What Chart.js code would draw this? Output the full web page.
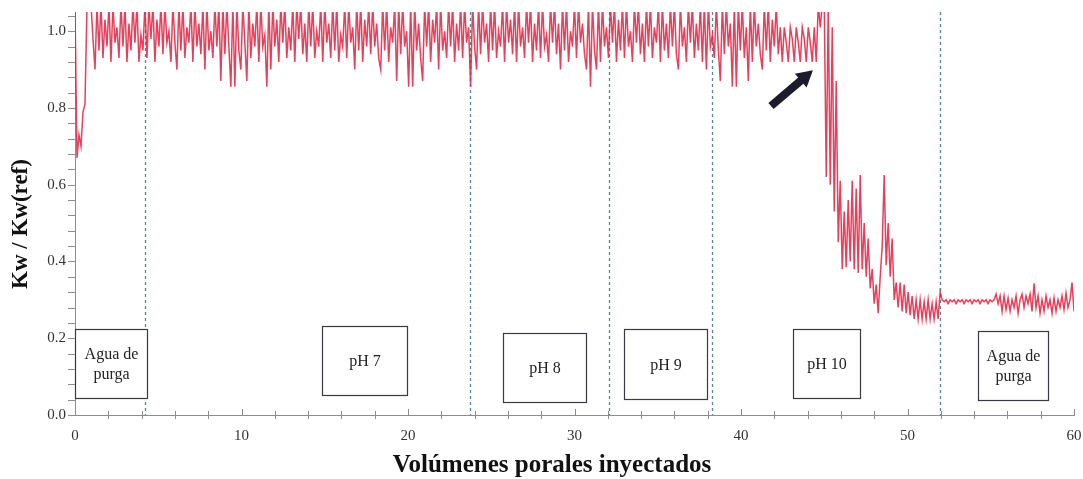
<!DOCTYPE html>
<html>
<head>
<meta charset="utf-8">
<script src="https://cdn.jsdelivr.net/npm/chart.js@4.4.1/dist/chart.umd.min.js"></script>
<style>
  html, body { margin: 0; padding: 0; background: #ffffff; }
  #wrap { width: 1083px; height: 479px; position: relative; }
</style>
</head>
<body>
<div id="wrap"><canvas id="kwChart" width="1083" height="479"></canvas></div>
<script>
// Relative permeability to water, Kw / Kw(ref), one reading every 0.12 pore volumes
const sampleStep = 0.12;
const kwRatio = [
  1.06, 0.67, 0.73, 0.70, 0.79, 0.81, 1.07, 1.07, 1.07, 0.98, 0.90, 1.07, 0.95, 1.07, 0.93, 1.03, 0.96, 1.07, 0.92, 1.07, 0.97, 1.01, 0.93, 1.07, 0.96,
  1.07, 0.92, 1.02, 0.95, 1.07, 0.97, 1.07, 0.92, 0.99, 0.95, 1.07, 0.93, 1.07, 0.98, 1.07, 0.92, 1.03, 0.96, 1.07, 0.94, 1.07, 0.97, 1.00, 0.92, 1.07,
  0.97, 0.90, 1.07, 0.95, 1.07, 0.93, 1.01, 0.97, 1.07, 0.92, 1.07, 0.96, 1.02, 0.94, 1.07, 0.90, 1.07, 0.95, 1.00, 0.93, 1.07, 0.96, 1.07, 0.87, 1.07,
  0.94, 1.07, 0.96, 0.855, 1.07, 0.855, 1.07, 0.95, 0.90, 1.07, 0.97, 0.87, 1.07, 0.93, 1.02, 0.96, 1.07, 0.92, 1.07, 0.96, 0.99, 0.855, 1.07, 0.90, 1.07,
  0.96, 1.03, 0.92, 1.07, 0.97, 1.07, 0.93, 1.01, 0.95, 1.07, 0.92, 1.07, 0.98, 1.07, 0.94, 1.02, 0.92, 1.07, 0.96, 1.07, 0.93, 1.00, 0.96, 1.07, 0.92,
  1.07, 0.97, 1.02, 0.93, 1.07, 0.95, 1.07, 0.92, 0.99, 0.96, 1.07, 0.93, 1.07, 0.97, 1.01, 0.90, 1.07, 0.95, 1.07, 0.92, 1.03, 0.96, 1.07, 0.94, 1.07,
  0.96, 1.02, 0.93, 0.90, 1.07, 0.95, 1.07, 0.92, 1.01, 0.97, 1.07, 0.87, 1.07, 0.94, 1.07, 0.96, 1.00, 0.855, 1.07, 0.855, 1.07, 0.95, 1.02, 0.93, 0.87,
  1.07, 0.96, 1.07, 0.92, 1.03, 0.97, 1.07, 0.90, 1.07, 0.95, 1.00, 0.93, 1.07, 0.96, 1.07, 0.92, 1.02, 0.95, 1.07, 0.93, 1.07, 0.97, 1.01, 0.855, 1.07,
  0.96, 0.90, 1.07, 0.94, 1.07, 0.97, 1.02, 0.92, 1.07, 0.95, 1.07, 0.93, 1.00, 0.96, 1.07, 0.92, 1.07, 0.97, 1.03, 0.94, 1.07, 0.92, 1.07, 0.96, 1.01,
  0.93, 1.07, 0.97, 1.07, 0.92, 1.02, 0.95, 1.07, 0.93, 1.07, 0.96, 0.99, 0.92, 1.07, 0.97, 1.07, 0.94, 1.02, 0.90, 1.07, 0.95, 1.07, 0.92, 1.00, 0.96,
  1.07, 0.93, 1.07, 0.97, 1.02, 0.94, 0.90, 1.07, 0.855, 1.07, 0.95, 0.90, 1.07, 0.92, 1.07, 0.96, 1.01, 0.93, 1.07, 0.97, 1.07, 0.92, 1.03, 0.95, 1.07,
  0.93, 1.07, 0.96, 1.00, 0.92, 1.07, 0.97, 1.07, 0.94, 1.02, 0.92, 1.07, 0.96, 1.07, 0.93, 1.01, 0.97, 1.07, 0.92, 1.07, 0.95, 1.02, 0.93, 1.07, 0.96,
  1.07, 0.94, 0.90, 1.07, 0.96, 1.01, 0.92, 1.07, 0.97, 1.07, 0.93, 1.02, 0.95, 1.07, 0.92, 1.07, 0.90, 1.07, 0.96, 0.99, 0.93, 1.07, 0.95, 0.87, 1.07,
  0.94, 1.07, 0.96, 1.02, 0.855, 1.07, 0.855, 1.07, 0.95, 1.07, 0.93, 1.01, 0.87, 1.07, 0.92, 1.07, 0.96, 1.02, 0.94, 0.90, 1.07, 0.95, 1.07, 0.92, 1.03,
  0.96, 1.07, 0.94, 1.01, 0.92, 1.01, 0.97, 0.92, 1.01, 0.98, 0.92, 1.01, 0.97, 0.92, 1.01, 0.98, 0.92, 1.01, 0.97, 0.92, 1.01, 0.92, 1.07, 1.01, 1.07,
  1.07, 0.62, 1.07, 0.60, 1.01, 0.53, 0.87, 0.45, 0.61, 0.38, 0.53, 0.385, 0.56, 0.40, 0.61, 0.38, 0.59, 0.37, 0.625, 0.38, 0.50, 0.36, 0.46, 0.33, 0.38,
  0.29, 0.34, 0.265, 0.36, 0.44, 0.625, 0.39, 0.50, 0.36, 0.46, 0.30, 0.345, 0.28, 0.345, 0.27, 0.34, 0.265, 0.32, 0.26, 0.31, 0.25, 0.30, 0.25, 0.30, 0.25,
  0.295, 0.25, 0.30, 0.25, 0.29, 0.25, 0.295, 0.25, 0.32, 0.30, 0.295, 0.30, 0.29, 0.30, 0.295, 0.30, 0.29, 0.30, 0.295, 0.30, 0.29, 0.30, 0.295, 0.30, 0.29,
  0.30, 0.295, 0.30, 0.29, 0.30, 0.295, 0.30, 0.29, 0.30, 0.295, 0.30, 0.315, 0.29, 0.31, 0.27, 0.31, 0.275, 0.305, 0.27, 0.30, 0.28, 0.31, 0.265, 0.30, 0.315,
  0.28, 0.31, 0.29, 0.315, 0.27, 0.343, 0.28, 0.31, 0.265, 0.30, 0.27, 0.31, 0.28, 0.30, 0.265, 0.305, 0.27, 0.30, 0.28, 0.31, 0.275, 0.317, 0.28, 0.30, 0.345,
  0.27
];

// Injected fluid stages and where each change happened (pore volumes)
const phaseBoundaries = [4.2, 23.75, 32.05, 38.25, 51.95];
const phaseLabels = [["Agua de", "purga"], ["pH 7"], ["pH 8"], ["pH 9"], ["pH 10"], ["Agua de", "purga"]];

const xTickValues = [0, 10, 20, 30, 40, 50, 60];
const yTickValues = [0.0, 0.2, 0.4, 0.6, 0.8, 1.0];

// Label boxes, in axis units: [x from, x to, y bottom, y top]
const labelBoxes = [
  [0.0, 4.32, 0.044, 0.224],
  [14.83, 19.94, 0.052, 0.232],
  [25.71, 30.69, 0.034, 0.214],
  [32.97, 37.96, 0.042, 0.224],
  [43.12, 47.15, 0.044, 0.224],
  [54.23, 58.44, 0.039, 0.219]
];
// Arrow pointing at the end of the pH 9 plateau: tail and tip, axis units
const arrowTail = [41.8, 0.805];
const arrowTip = [44.32, 0.898];

const serif = "'Liberation Serif', 'Times New Roman', serif";
const axisGrey = '#8c8c8c';

const points = kwRatio.map((v, i) => ({ x: +(i * sampleStep).toFixed(2), y: v }));

const decorations = {
  id: 'decorations',
  beforeDatasetsDraw(chart) {
    const { ctx, chartArea: a, scales: { x } } = chart;
    ctx.save();
    ctx.strokeStyle = '#4e8a8e';
    ctx.lineWidth = 1.3;
    ctx.setLineDash([3, 3]);
    phaseBoundaries.forEach(b => {
      const px = Math.round(x.getPixelForValue(b)) + 0.5;
      ctx.beginPath();
      ctx.moveTo(px, a.top);
      ctx.lineTo(px, a.bottom);
      ctx.stroke();
    });
    ctx.restore();
  },
  afterDatasetsDraw(chart) {
    const { ctx, scales: { x, y } } = chart;
    ctx.save();
    // stage boxes
    labelBoxes.forEach((b, i) => {
      const l = Math.round(x.getPixelForValue(b[0])) + 0.5;
      const r = Math.round(x.getPixelForValue(b[1])) + 0.5;
      const t = Math.round(y.getPixelForValue(b[3])) + 0.5;
      const btm = Math.round(y.getPixelForValue(b[2])) + 0.5;
      ctx.fillStyle = '#ffffff';
      ctx.fillRect(l, t, r - l, btm - t);
      ctx.strokeStyle = '#3a3a44';
      ctx.lineWidth = 1.2;
      ctx.setLineDash([]);
      ctx.strokeRect(l, t, r - l, btm - t);
      const lines = phaseLabels[i];
      ctx.fillStyle = '#222222';
      ctx.font = '16px ' + serif;
      ctx.textAlign = 'center';
      ctx.textBaseline = 'middle';
      const cx = (l + r) / 2, cy = (t + btm) / 2 + 1;
      const lh = 20;
      lines.forEach((s, k) => {
        ctx.fillText(s, cx, cy + (k - (lines.length - 1) / 2) * lh);
      });
    });
    // arrow
    const tx = x.getPixelForValue(arrowTail[0]), ty = y.getPixelForValue(arrowTail[1]);
    const hx = x.getPixelForValue(arrowTip[0]), hy = y.getPixelForValue(arrowTip[1]);
    const ang = Math.atan2(hy - ty, hx - tx);
    const headLen = 16, headHalf = 9;
    const bx = hx - headLen * Math.cos(ang), by = hy - headLen * Math.sin(ang);
    ctx.strokeStyle = '#1b1b2b';
    ctx.fillStyle = '#1b1b2b';
    ctx.lineWidth = 8;
    ctx.lineCap = 'butt';
    ctx.beginPath();
    ctx.moveTo(tx, ty);
    ctx.lineTo(bx + 2 * Math.cos(ang), by + 2 * Math.sin(ang));
    ctx.stroke();
    ctx.beginPath();
    ctx.moveTo(hx, hy);
    ctx.lineTo(bx + headHalf * Math.sin(ang), by - headHalf * Math.cos(ang));
    ctx.lineTo(bx - headHalf * Math.sin(ang), by + headHalf * Math.cos(ang));
    ctx.closePath();
    ctx.fill();
    ctx.restore();
  },
  afterDraw(chart) {
    const { ctx, chartArea: a, scales: { x, y } } = chart;
    ctx.save();
    ctx.strokeStyle = axisGrey;
    ctx.lineWidth = 1;
    // y tick marks every 0.04, pointing outwards
    for (let k = 0; k <= 26; k++) {
      const py = Math.round(y.getPixelForValue(k * 0.04)) + 0.5;
      ctx.beginPath();
      ctx.moveTo(a.left - 7, py);
      ctx.lineTo(a.left, py);
      ctx.stroke();
    }
    // x tick marks every 2 pore volumes, taller at the labelled ones
    for (let k = 0; k <= 30; k++) {
      const px = Math.round(x.getPixelForValue(k * 2)) + 0.5;
      const major = k % 5 === 0;
      ctx.beginPath();
      ctx.moveTo(px, a.bottom - (major ? 6 : 4));
      ctx.lineTo(px, a.bottom + (major ? 0 : 4));
      ctx.stroke();
    }
    // axis titles
    ctx.fillStyle = '#111111';
    ctx.textAlign = 'center';
    ctx.textBaseline = 'middle';
    ctx.font = 'bold 25px ' + serif;
    ctx.fillText('Volúmenes porales inyectados', 552, 466);
    ctx.translate(21, 224);
    ctx.rotate(-Math.PI / 2);
    ctx.font = 'bold 23px ' + serif;
    ctx.fillText('Kw / Kw(ref)', 0, 0);
    ctx.restore();
  }
};

new Chart(document.getElementById('kwChart'), {
  type: 'line',
  data: {
    datasets: [{
      data: points,
      borderColor: 'rgba(224, 32, 64, 0.85)',
      borderWidth: 1.5,
      pointRadius: 0,
      tension: 0,
      fill: false,
      clip: 0
    }]
  },
  options: {
    responsive: false,
    animation: false,
    devicePixelRatio: 1,
    layout: { padding: { top: 12, right: 9, left: 0, bottom: 0 } },
    plugins: { legend: { display: false }, tooltip: { enabled: false } },
    scales: {
      x: {
        type: 'linear',
        min: 0,
        max: 60,
        afterBuildTicks: s => { s.ticks = xTickValues.map(v => ({ value: v })); },
        afterFit: s => { s.height = 64; s.paddingLeft = 0; s.paddingRight = 0; },
        grid: { display: false, drawTicks: false },
        border: { display: true, color: axisGrey, width: 1 },
        ticks: {
          font: { family: serif, size: 15 },
          color: '#333333',
          padding: 12,
          maxRotation: 0,
          autoSkip: false,
          callback: v => String(v)
        }
      },
      y: {
        min: 0,
        max: 1.05,
        afterBuildTicks: s => { s.ticks = yTickValues.map(v => ({ value: v })); },
        afterFit: s => { s.width = 75; s.paddingTop = 0; s.paddingBottom = 0; },
        grid: { display: false, drawTicks: false },
        border: { display: true, color: axisGrey, width: 1 },
        ticks: {
          font: { family: serif, size: 15 },
          color: '#333333',
          padding: 9,
          autoSkip: false,
          callback: v => v.toFixed(1)
        }
      }
    }
  },
  plugins: [decorations]
});
</script>
</body>
</html>
